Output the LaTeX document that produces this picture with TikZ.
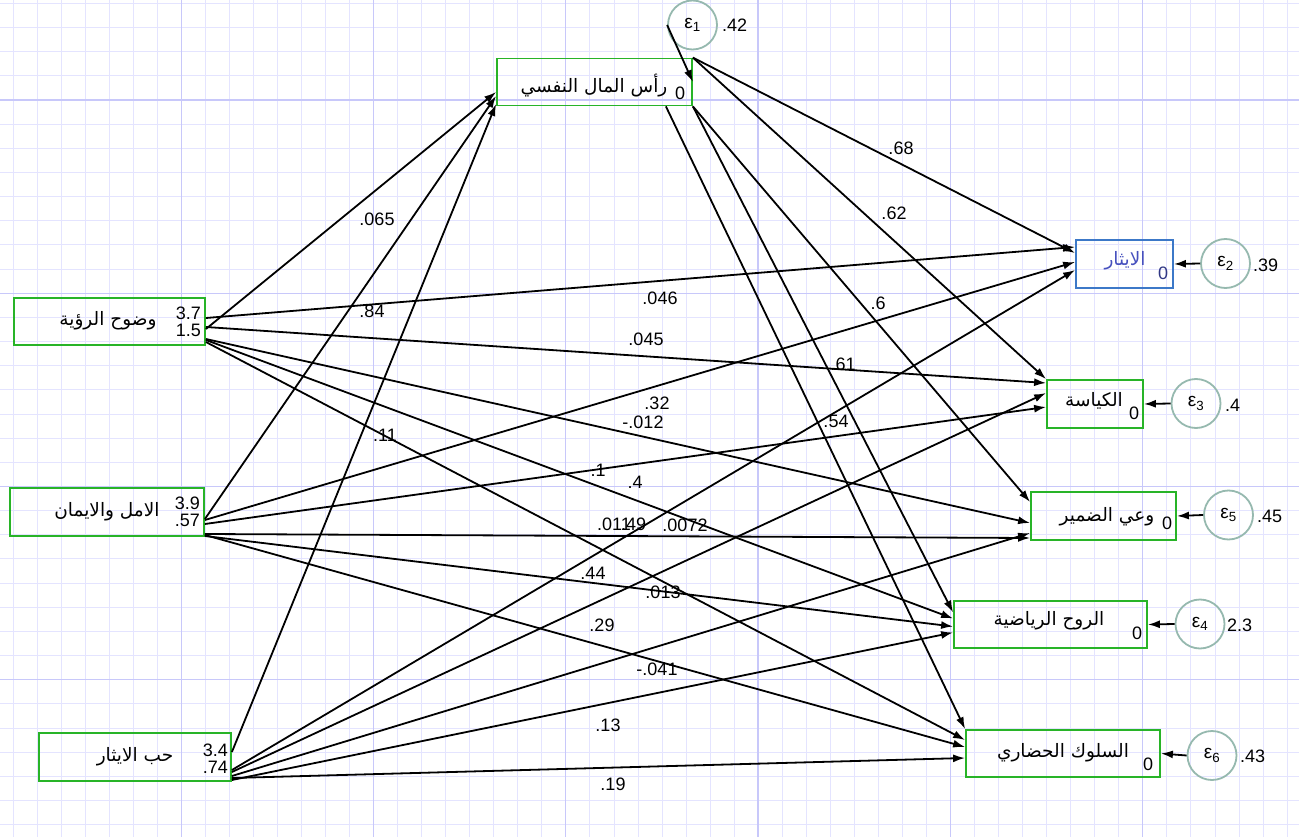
\documentclass[tikz,border=0pt]{standalone}
\usepackage{fontspec}
\setmainfont{Liberation Sans}
\newfontfamily\arabicfont[Script=Arabic]{DejaVu Sans}
\TeXXeTstate=1
\usetikzlibrary{arrows.meta, calc}

\definecolor{boxgreen}{RGB}{40,180,40}
\definecolor{errgray}{RGB}{150,185,175}
\definecolor{gridminor}{RGB}{228,228,255}
\definecolor{gridmajor}{RGB}{200,200,250}
\definecolor{selblue}{RGB}{60,120,200}
\definecolor{seltext}{RGB}{70,80,190}

\tikzset{
    varbox/.style={draw=boxgreen, line width=1.8pt, rectangle, minimum height=47pt, inner sep=0pt},
    errnode/.style={draw=errgray, line width=1.8pt, circle, minimum size=49pt, inner sep=0pt, font=\fontsize{19}{19}\selectfont},
    sempath/.style={line width=1.8pt, -{Latex[length=12pt,width=8pt]}},
    coef/.style={font=\fontsize{18}{17}\selectfont, inner sep=0pt},
    artext/.style={font=\arabicfont\fontsize{18.5}{20}\selectfont, inner sep=0pt},
}

\begin{document}
\begin{tikzpicture}[x=1pt, y=-1pt]
    \useasboundingbox (0,0) rectangle (1299,837);
    \fill[white] (0,0) rectangle (1299,837);

    % Background grid
    \foreach \k in {0,...,53}
        \draw[gridminor, line width=0.8pt] ({12.9+24.04*\k},0) -- ({12.9+24.04*\k},837);
    \foreach \k in {0,...,34}
        \draw[gridminor, line width=0.8pt] (0,{3.4+24.15*\k}) -- (1299,{3.4+24.15*\k});
    \foreach \x in {181.2,373.5,565.8,758.1,950.4,1142.7}
        \draw[gridmajor, line width=1.3pt] (\x,0) -- (\x,837);
    \foreach \y in {100,293.2,486.4,679.6}
        \draw[gridmajor, line width=1.3pt] (0,\y) -- (1299,\y);

    % --- Mediator (top) ---
    \node[varbox, minimum width=195pt] (psy) at (594.5,82) {};
    \node[artext] (psy-t) at (594,86) {\beginR رأس المال النفسي\endR};
    \node[coef] (psy-m) at (680,93) {0};

    % --- Exogenous boxes (left) ---
    \node[varbox, minimum width=191pt] (vis) at (109.5,321.5) {};
    \node[artext] (vis-t) at (108,321) {\beginR وضوح الرؤية\endR};
    \node[coef, align=right, anchor=east] (vis-m) at (201,321.5) {3.7\\1.5};

    \node[varbox, minimum width=194pt, minimum height=48pt] (hope) at (107,512) {};
    \node[artext] (hope-t) at (107,512) {\beginR الامل والايمان\endR};
    \node[coef, align=right, anchor=east] (hope-m) at (200,511.5) {3.9\\.57};

    \node[varbox, minimum width=192pt, minimum height=48pt] (love) at (135,757) {};
    \node[artext] (love-t) at (135,757) {\beginR حب الايثار\endR};
    \node[coef, align=right, anchor=east] (love-m) at (228,758.5) {3.4\\.74};

    % --- Outcome boxes (right) ---
    \node[varbox, draw=selblue, minimum width=97pt, minimum height=48pt] (ithar) at (1124.5,264) {};
    \node[artext, text=seltext] (ithar-t) at (1125,261) {\beginR الايثار\endR};
    \node[coef, text=seltext!70!black] (ithar-m) at (1163,273) {0};

    \node[varbox, minimum width=96pt, minimum height=48pt] (kiy) at (1095,404) {};
    \node[artext] (kiy-t) at (1094,401) {\beginR الكياسة\endR};
    \node[coef] (kiy-m) at (1134,413) {0};

    \node[varbox, minimum width=145pt, minimum height=48pt] (wai) at (1103.5,516) {};
    \node[artext] (wai-t) at (1107,517) {\beginR وعي الضمير\endR};
    \node[coef] (wai-m) at (1167,523) {0};

    \node[varbox, minimum width=193pt] (ruh) at (1050.5,624.5) {};
    \node[artext] (ruh-t) at (1049,621) {\beginR الروح الرياضية\endR};
    \node[coef] (ruh-m) at (1137,633) {0};

    \node[varbox, minimum width=194pt] (suluk) at (1063,753.5) {};
    \node[artext] (suluk-t) at (1063,753) {\beginR السلوك الحضاري\endR};
    \node[coef] (suluk-m) at (1148,764) {0};

    % --- Error terms ---
    \node[errnode] (e1) at (692.5,25) {ε\textsubscript{1}};
    \node[errnode] (e2) at (1225.5,263.5) {ε\textsubscript{2}};
    \node[errnode] (e3) at (1196,403.5) {ε\textsubscript{3}};
    \node[errnode] (e5) at (1228.5,515) {ε\textsubscript{5}};
    \node[errnode] (e4) at (1200,624) {ε\textsubscript{4}};
    \node[errnode] (e6) at (1212,755.5) {ε\textsubscript{6}};
    \node[coef, anchor=west] (e1-v) at (722,25) {.42};
    \node[coef, anchor=west] (e2-v) at (1253,265) {.39};
    \node[coef, anchor=west] (e3-v) at (1225,405) {.4};
    \node[coef, anchor=west] (e5-v) at (1257,516) {.45};
    \node[coef, anchor=west] (e4-v) at (1227,625) {2.3};
    \node[coef, anchor=west] (e6-v) at (1240,756) {.43};

    \draw[sempath] (e1.west) -- (psy.east);
    \foreach \e/\b in {e2/ithar, e3/kiy, e5/wai, e4/ruh, e6/suluk}
        \draw[sempath] (\e.west) -- (\b.east);

    % Paths into the mediator
    \draw[sempath] ([yshift=-7.5pt]vis.east) -- ([yshift=-10pt]psy.west);
    \draw[sempath] ([yshift=-7pt]hope.east) -- ([yshift=-14pt]psy.west);
    \draw[sempath] ([yshift=5pt]love.east) -- ([yshift=-22pt]psy.west);

    % Paths out of the mediator
    \draw[sempath] (psy.north east) -- ([yshift=11pt]ithar.west);
    \draw[sempath] (psy.north east) -- (kiy.north west);
    \draw[sempath] (psy.south east) -- ([yshift=14pt]wai.west);
    \draw[sempath] (psy.south east) -- ([yshift=12pt]ruh.west);
    \draw[sempath] ([xshift=-27pt]psy.south east) -- (suluk.north west);

    % Direct paths
    \draw[sempath] ([yshift=3.5pt]vis.east) -- ([yshift=17pt]ithar.west);
    \draw[sempath] ([yshift=-5.5pt]vis.east) -- ([yshift=21pt]kiy.west);
    \draw[sempath] ([yshift=-17.5pt]vis.east) -- ([yshift=-7pt]wai.west);
    \draw[sempath] ([yshift=-18.5pt]vis.east) -- ([yshift=6pt]ruh.west);
    \draw[sempath] ([yshift=-20.5pt]vis.east) -- ([yshift=13.5pt]suluk.west);

    \draw[sempath] ([yshift=-8pt]hope.east) -- ([yshift=2pt]ithar.west);
    \draw[sempath] ([yshift=-12pt]hope.east) -- ([yshift=-3pt]kiy.west);
    \draw[sempath] ([yshift=-22pt]hope.east) -- ([yshift=-22pt]wai.west);
    \draw[sempath] ([yshift=-24pt]hope.east) -- ([yshift=-2pt]ruh.west);
    \draw[sempath] ([yshift=-23pt]hope.east) -- ([yshift=6.5pt]suluk.west);

    \draw[sempath] ([yshift=-13pt]love.east) -- ([yshift=-6pt]ithar.west);
    \draw[sempath] ([yshift=-15pt]love.east) -- ([yshift=11pt]kiy.west);
    \draw[sempath] ([yshift=-19pt]love.east) -- ([yshift=-17pt]wai.west);
    \draw[sempath] ([yshift=-23pt]love.east) -- ([yshift=-8pt]ruh.west);
    \draw[sempath] ([yshift=-21pt]love.east) -- ([yshift=-4.5pt]suluk.west);

    % Coefficients
    \foreach \x/\y/\v [count=\i] in {377/219/.065, 372/311/.84, 385/435/.11,
        901/148/.68, 894/213/.62, 878/303/.6, 843/364/.61, 836/421/.54,
        660/298/.046, 646/339/.045, 657/403/.32, 643/422/-.012, 598/470/.1,
        635/482/.4, 685/525/.0072, 593/573/.44, 663/592/.013, 602/625/.29,
        657/669/-.041, 608/725/.13, 613/784/.19}
        \node[coef] (c\i) at (\x,\y) {\v};
    \node[coef, anchor=west] (c22) at (597,524) {.011};
    \node[coef, anchor=west] (c23) at (621,524) {.49};

\end{tikzpicture}
\end{document}
